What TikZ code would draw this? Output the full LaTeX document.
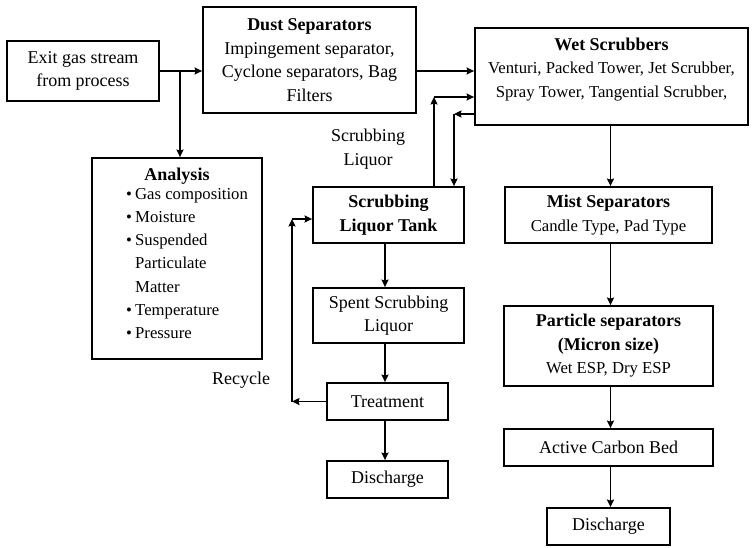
\documentclass[tikz,border=0pt]{standalone}
\usepackage{fontspec}
\setmainfont{Liberation Serif}
\usetikzlibrary{arrows.meta}
\tikzset{
  box/.style={draw, line width=1.8pt, inner sep=0pt, align=center, font=\fontsize{18}{23.5}\selectfont},
  txt/.style={inner sep=0pt, align=center, font=\fontsize{18}{23.5}\selectfont},
  arr/.style={line width=1.8pt, -{Stealth[length=7.5pt,width=7pt,inset=1pt]}},
}
\newcommand{\subf}{\fontsize{16.7}{22.5}\selectfont}
\begin{document}
\begin{tikzpicture}[x=1pt,y=-1pt]
\useasboundingbox (0,0) rectangle (753,547);
% boxes
\node[box, minimum width=152pt, minimum height=60pt] (exit) at (83,71) {Exit gas stream\\from process};
\node[box, minimum width=213pt, minimum height=106pt] (dust) at (309.5,60) {\textbf{Dust Separators}\\Impingement separator,\\Cyclone separators, Bag\\Filters};
\node[box, minimum width=273pt, minimum height=97pt] (wet) at (611.5,76.5) {};
\node[txt] (wettext) at (611.5,69.5) {\textbf{Wet Scrubbers}\\{\subf Venturi, Packed Tower, Jet Scrubber,}\\{\subf Spray Tower, Tangential Scrubber,}};
\node[box, minimum width=170pt, minimum height=201pt] (analysis) at (177,258.5) {};
\node[txt] (antitle) at (177,176) {\textbf{Analysis}};
\node[txt, anchor=north west, align=left, font=\fontsize{16.7}{23.2}\selectfont] (anlist) at (126,188)
  {\makebox[9pt][l]{\textbullet}Gas composition\\
   \makebox[9pt][l]{\textbullet}Moisture\\
   \makebox[9pt][l]{\textbullet}Suspended\\
   \hspace*{9pt}Particulate\\
   \hspace*{9pt}Matter\\
   \makebox[9pt][l]{\textbullet}Temperature\\
   \makebox[9pt][l]{\textbullet}Pressure};
\node[box, minimum width=151pt, minimum height=56pt] (tank) at (388.5,215) {\textbf{Scrubbing}\\\textbf{Liquor Tank}};
\node[box, minimum width=151pt, minimum height=55pt] (spent) at (388.5,315.5) {Spent Scrubbing\\Liquor};
\node[box, minimum width=121pt, minimum height=37pt] (treat) at (387.5,401.5) {Treatment};
\node[box, minimum width=121pt, minimum height=37pt] (dis1) at (387.5,479.5) {Discharge};
\node[box, minimum width=207pt, minimum height=56pt] (mist) at (608.5,215) {\textbf{Mist Separators}\\{\subf Candle Type, Pad Type}};
\node[box, minimum width=209pt, minimum height=80pt] (part) at (608.5,346) {\textbf{Particle separators}\\\textbf{(Micron size)}\\{\subf Wet ESP, Dry ESP}};
\node[box, minimum width=209pt, minimum height=37pt] (carbon) at (608.5,447.5) {Active Carbon Bed};
\node[box, minimum width=123pt, minimum height=37pt] (dis2) at (608.5,526.5) {Discharge};
% labels
\node[txt] (sclabel) at (368,149) {Scrubbing\\Liquor};
\node[txt] (reclabel) at (241,380) {Recycle};
% coordinates
\coordinate (j1) at (180,71);
\coordinate (c1) at (434,97);
\coordinate (c2) at (454,114);
\coordinate (r1) at (292,401.5);
\coordinate (r2) at (292,219);
\coordinate (colx) at (385,0);
\coordinate (colr) at (610.5,0);
% connectors
\draw[arr] (exit.east) -- (exit.east -| dust.west);
\draw[arr] (j1) -- (j1 |- analysis.north);
\draw[arr] (dust.east |- exit.east) -- (wet.west |- exit.east);
\draw[arr] (tank.north -| c1) -- (c1);
\draw[arr] (c1) -- (wet.west |- c1);
\draw[arr] (wet.west |- c2) -- (c2);
\draw[arr] (c2) -- (tank.north -| c2);
\draw[arr] (tank.south -| colx) -- (spent.north -| colx);
\draw[arr] (spent.south -| colx) -- (treat.north -| colx);
\draw[arr] (treat.south -| colx) -- (dis1.north -| colx);
\draw[arr] (treat.west) -- (r1);
\draw[arr] (r1) -- (r2);
\draw[arr] (r2) -- (tank.west |- r2);
\draw[arr] (wet.south -| colr) -- (mist.north -| colr);
\draw[arr] (mist.south -| colr) -- (part.north -| colr);
\draw[arr] (part.south -| colr) -- (carbon.north -| colr);
\draw[arr] (carbon.south -| colr) -- (dis2.north -| colr);
\end{tikzpicture}
\end{document}
